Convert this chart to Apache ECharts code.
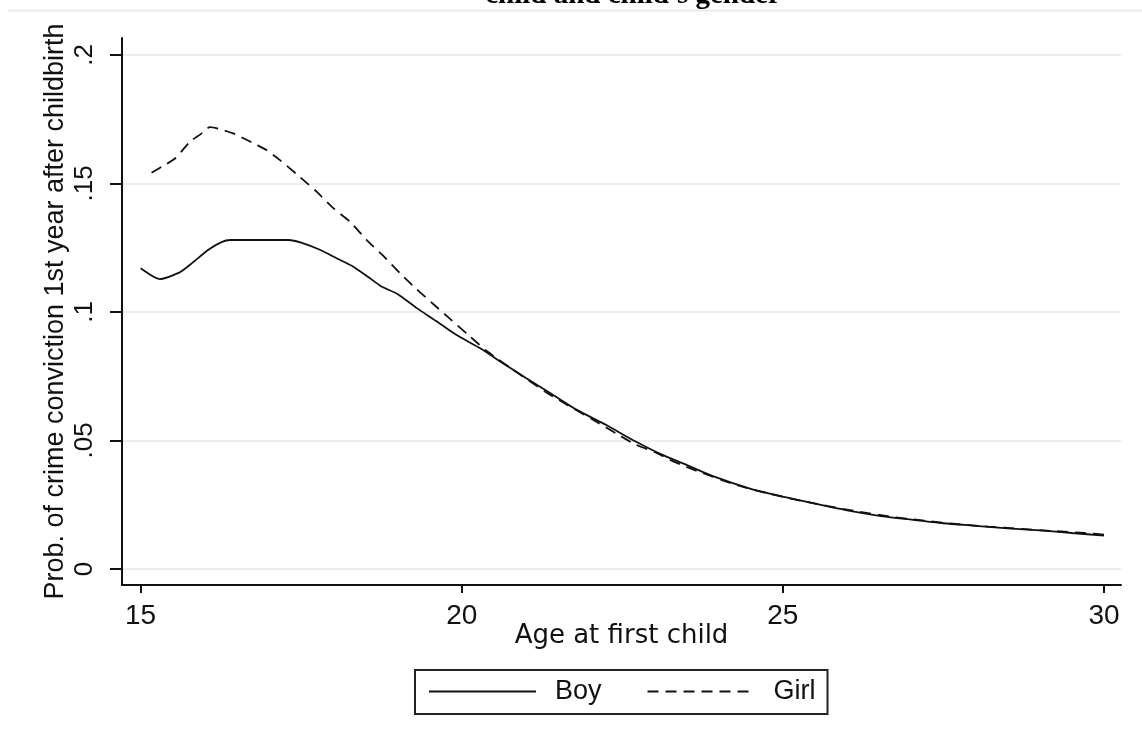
<!DOCTYPE html>
<html>
<head>
<meta charset="utf-8">
<script src="https://cdn.jsdelivr.net/npm/echarts@6/dist/echarts.min.js"></script>
<style>
html,body{margin:0;padding:0;background:#fff;}
#chart{width:1142px;height:744px;}
</style>
</head>
<body>
<div id="chart"></div>
<script>
const titleText = "child and child's gender";
const xTitle = "Age at first child";
const yTitle = "Prob. of crime conviction 1st year after childbirth";
const seriesNames = ["Boy", "Girl"];
const xTicks = [15, 20, 25, 30];
const yTicks = [0, 0.05, 0.1, 0.15, 0.2];

const boyAge = [15.0, 15.3, 15.6, 15.8, 16.05, 16.25, 16.4, 17.3, 17.5, 17.8, 18.05, 18.3, 18.55, 18.75, 19.0, 19.3, 19.6, 19.9, 20.3, 20.6, 21.0, 21.4, 21.8, 22.25, 22.7, 23.1, 23.5, 23.9, 24.5, 25.0, 25.5, 26.0, 26.5, 27.0, 27.5, 28.0, 28.5, 29.0, 29.5, 30.0];
const boyProb = [0.117, 0.1128, 0.1153, 0.119, 0.1241, 0.1271, 0.128, 0.128, 0.127, 0.1241, 0.1209, 0.1178, 0.1135, 0.1099, 0.1070, 0.1015, 0.0965, 0.0913, 0.0857, 0.0807, 0.0743, 0.0681, 0.0618, 0.0560, 0.0497, 0.0447, 0.0405, 0.0362, 0.0312, 0.0282, 0.0254, 0.0228, 0.0207, 0.0192, 0.0178, 0.0168, 0.0158, 0.0150, 0.0140, 0.0130];

const girlAge = [15.17, 15.35, 15.54, 15.77, 15.93, 16.08, 16.24, 16.44, 16.6, 16.81, 16.96, 17.17, 17.43, 17.74, 18.0, 18.26, 18.52, 18.78, 19.04, 19.3, 19.56, 19.8, 20.1, 20.4, 20.8, 21.3, 21.7, 22.05, 22.4, 22.7, 23.05, 23.3, 23.7, 24.2, 24.7, 25.2, 25.7, 26.2, 26.7, 27.2, 27.7, 28.2, 28.7, 29.2, 29.7, 30.0];
const girlProb = [0.1542, 0.1568, 0.1598, 0.1663, 0.1691, 0.1719, 0.1711, 0.1695, 0.1676, 0.165, 0.163, 0.1591, 0.1536, 0.1468, 0.1404, 0.1351, 0.128, 0.1218, 0.1150, 0.1088, 0.1030, 0.0977, 0.0911, 0.0846, 0.0775, 0.0690, 0.0630, 0.0580, 0.0528, 0.0485, 0.0450, 0.0418, 0.0378, 0.0333, 0.0298, 0.0270, 0.0245, 0.0222, 0.0203, 0.0188, 0.0175, 0.0165, 0.0156, 0.0148, 0.0140, 0.0134];

const pairs = (xs, ys) => xs.map((x, i) => [x, ys[i]]);
const ink = '#111';
const gridColor = '#e9eef3';

const chart = echarts.init(document.getElementById('chart'), null, {renderer: 'canvas'});
chart.setOption({
  animation: false,
  backgroundColor: '#fff',
  title: {
    text: titleText,
    left: 628,
    textAlign: 'center',
    top: -24,
    textStyle: {fontFamily: 'Liberation Serif', fontWeight: 'bold', fontSize: 29, color: '#000'}
  },
  graphic: [{
    type: 'line',
    shape: {x1: 8, y1: 10.5, x2: 1142, y2: 10.5},
    style: {stroke: '#e6ebf0', lineWidth: 2},
    silent: true
  }],
  grid: {left: 122, right: 21, top: 38, bottom: 159, containLabel: false},
  legend: {
    data: seriesNames,
    left: 415,
    top: 670,
    orient: 'horizontal',
    borderColor: '#222',
    borderWidth: 2,
    borderRadius: 0,
    padding: [8, 12, 9, 13],
    itemWidth: 107,
    itemHeight: 14,
    itemGap: 45,
    itemStyle: {opacity: 0},
    textStyle: {fontFamily: 'Liberation Sans', fontSize: 27, color: ink, padding: [0, 0, 0, 14]}
  },
  xAxis: {
    type: 'value',
    min: 14.71,
    max: 30.265,
    name: xTitle,
    nameLocation: 'middle',
    nameGap: 38,
    nameMoveOverlap: false,
    nameTextStyle: {fontFamily: 'DejaVu Sans', fontSize: 26, color: ink},
    axisLine: {show: true, onZero: false, lineStyle: {color: ink, width: 2}},
    axisTick: {show: true, customValues: xTicks, length: 8, lineStyle: {color: ink, width: 2}},
    axisLabel: {customValues: xTicks, fontFamily: 'Liberation Sans', fontSize: 28, color: ink, margin: 17},
    splitLine: {show: false}
  },
  yAxis: {
    type: 'value',
    min: -0.00623,
    max: 0.2066,
    name: yTitle,
    nameLocation: 'middle',
    nameGap: 53,
    nameMoveOverlap: false,
    nameTextStyle: {fontFamily: 'Liberation Sans', fontSize: 27, color: ink},
    axisLine: {show: true, onZero: false, lineStyle: {color: ink, width: 2}},
    axisTick: {show: true, customValues: yTicks, length: 12, lineStyle: {color: ink, width: 2}},
    axisLabel: {
      customValues: yTicks,
      rotate: 90,
      fontFamily: 'Liberation Sans',
      fontSize: 26,
      color: ink,
      margin: 24,
      formatter: v => (Math.abs(v) < 1e-9 ? '0' : String(+v.toFixed(2)).replace(/^0\./, '.'))
    },
    splitLine: {show: true, customValues: yTicks, lineStyle: {color: gridColor, width: 2}}
  },
  series: [
    {
      name: seriesNames[0],
      type: 'line',
      data: pairs(boyAge, boyProb),
      symbol: 'none',
      smooth: 0.2,
      lineStyle: {color: ink, width: 1.8, type: 'solid'},
      itemStyle: {color: ink}
    },
    {
      name: seriesNames[1],
      type: 'line',
      data: pairs(girlAge, girlProb),
      symbol: 'none',
      smooth: 0.2,
      lineStyle: {color: ink, width: 1.8, type: [11, 7]},
      itemStyle: {color: ink}
    }
  ]
});
</script>
</body>
</html>
